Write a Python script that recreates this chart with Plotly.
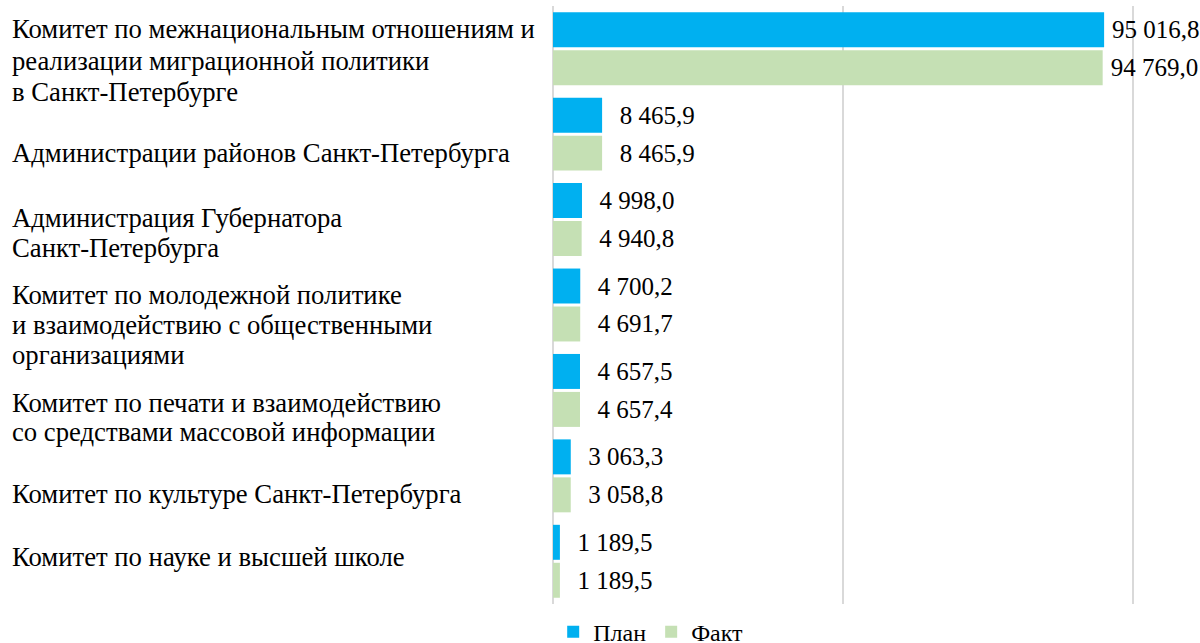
import plotly.graph_objects as go

# ---- data ----
categories = [
    "Комитет по межнациональным отношениям и\nреализации миграционной политики\nв Санкт-Петербурге",
    "Администрации районов Санкт-Петербурга",
    "Администрация Губернатора\nСанкт-Петербурга",
    "Комитет по молодежной политике\nи взаимодействию с общественными\nорганизациями",
    "Комитет по печати и взаимодействию\nсо средствами массовой информации",
    "Комитет по культуре Санкт-Петербурга",
    "Комитет по науке и высшей школе",
]
plan = [95016.8, 8465.9, 4998.0, 4700.2, 4657.5, 3063.3, 1189.5]
fact = [94769.0, 8465.9, 4940.8, 4691.7, 4657.4, 3058.8, 1189.5]
series_names = ["План", "Факт"]

# ---- style ----
FONT = "'Liberation Serif', 'DejaVu Serif', serif"
COLORS = ["#00B0F0", "#C5E0B4"]
label_shift = [12, 19, 13.5, 19.5, 27, 18.5, -4]   # px downward offset of label block
line_h = [31.5, 30, 29.5, 30, 29.5, 30, 30]
NB = "\u00a0"
BIG_PRE = "\u2009"
SMALL_PRE = NB * 2 + "\u200a"
prefix_plan = [BIG_PRE if v > 50000 else SMALL_PRE for v in plan]
prefix_fact = [BIG_PRE if v > 50000 else SMALL_PRE for v in fact]

W, H = 1200, 643
ML, MR, MT, MB = 553, 0, 6, 39

fig = go.Figure()
for name, vals, col, pre in [
    (series_names[0], plan, COLORS[0], prefix_plan),
    (series_names[1], fact, COLORS[1], prefix_fact),
]:
    fig.add_trace(go.Bar(
        y=categories, x=vals, name=name, orientation="h",
        marker=dict(color=col, line=dict(width=0)),
        texttemplate=[p + "%{x:,.1f}" for p in pre],
        textposition="outside", cliponaxis=False, constraintext="none",
        textfont=dict(family=FONT, size=25, color="#000000"),
    ))

annotations = []
for cat, sh, lh in zip(categories, label_shift, line_h):
    lines = cat.split("\n")
    n = len(lines)
    for i, ln in enumerate(lines):
        off = sh + (i - (n - 1) / 2) * lh
        annotations.append(dict(
            text=ln, xref="paper", yref="y", x=-(553 - 10) / (W - ML - MR), y=cat,
            xanchor="left", yanchor="middle", yshift=-off, showarrow=False,
            align="left", font=dict(family=FONT, size=26.7, color="#000000"),
        ))

fig.update_layout(
    width=W, height=H,
    font=dict(family=FONT, color="#000000"),
    margin=dict(l=ML, r=MR, t=MT, b=MB, autoexpand=False),
    paper_bgcolor="white", plot_bgcolor="white",
    barmode="group", bargap=0.111, bargroupgap=0.079,
    separators=", ",
    showlegend=True,
    legend=dict(orientation="h", x=0.151, xanchor="center", y=-0.047, yanchor="middle",
                font=dict(family=FONT, size=24, color="#000000"), itemwidth=30,
                traceorder="normal"),
    annotations=annotations,
    xaxis=dict(range=[0, 111550], dtick=50000, showgrid=True, gridcolor="#D9D9D9", gridwidth=2,
               zeroline=True, zerolinecolor="#D9D9D9", zerolinewidth=2,
               showticklabels=False, ticks="", fixedrange=True),
    yaxis=dict(range=[len(categories) - 0.5, -0.5], showticklabels=False, showgrid=False,
               ticks="", zeroline=False, fixedrange=True),
)

fig.write_html("out.html", config={"displayModeBar": False},
               post_script="document.body.style.margin='0px';")
